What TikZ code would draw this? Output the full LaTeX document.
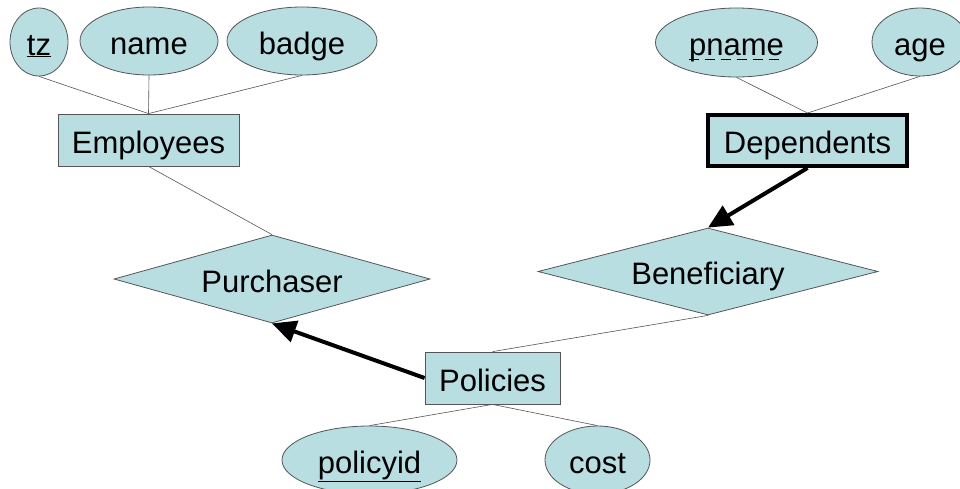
\documentclass[tikz,border=0pt]{standalone}
\usepackage{fontspec}
\setmainfont{Liberation Sans}
\usetikzlibrary{shapes.geometric,arrows.meta}
\definecolor{erfill}{RGB}{184,222,226}
\definecolor{erline}{RGB}{85,85,85}
\begin{document}
\begin{tikzpicture}[x=1pt,y=-1pt,
  every node/.style={font=\fontsize{31}{37}\selectfont, text height=31pt, text depth=5pt},
  attr/.style={ellipse, draw=erline, fill=erfill, inner sep=0pt, line width=0.8pt},
  ent/.style={rectangle, draw=erline, fill=erfill, inner sep=0pt, line width=0.8pt},
  weakent/.style={rectangle, draw=black, fill=erfill, inner sep=0pt, line width=4pt},
  rel/.style={diamond, aspect=3.6, draw=erline, fill=erfill, inner sep=0pt, line width=0.8pt},
  conn/.style={draw=erline, line width=0.6pt},
  heavy/.style={draw=black, line width=4pt, -{Triangle[length=24pt,width=22pt]}}]
\path[use as bounding box] (0,0) rectangle (960,488);
\clip (0,0) rectangle (960,488);
\fill[white] (0,0) rectangle (960,488);

% entities
\node[ent, minimum width=181pt, minimum height=52pt] (emp) at (148.5,140) {Employees};
\node[weakent, minimum width=199pt, minimum height=51pt] (dep) at (807.5,140.5) {Dependents};
\node[ent, minimum width=135pt, minimum height=52pt] (pol) at (492.5,378) {Policies};

% relationships
\node[rel, minimum width=316pt, minimum height=88pt] (purch) at (272,279) {Purchaser};
\node[rel, minimum width=340pt, minimum height=87pt] (benef) at (708,271.5) {Beneficiary};

% attributes
\node[attr, minimum width=58pt, minimum height=68pt] (tz) at (39,42) {\underline{tz}};
\node[attr, minimum width=138pt, minimum height=68pt] (name) at (149,41) {name};
\node[attr, minimum width=150pt, minimum height=68pt] (badge) at (302,41) {badge};
\node[attr, minimum width=162pt, minimum height=69pt] (pname) at (736.5,42.5) {};
\node[inner sep=0pt] (pnametxt) at (pname) {pname};
\node[attr, minimum width=96pt, minimum height=68pt] (age) at (920,42) {age};
\node[attr, minimum width=175pt, minimum height=68pt] (policyid) at (369.5,460) {\underline{policyid}};
\node[attr, minimum width=105pt, minimum height=68pt] (cost) at (597.5,460) {cost};

% dashed underline of the partial key
\draw[black, line width=1.3pt, dash pattern=on 10pt off 6pt]
  ([yshift=-4pt]pnametxt.base west) -- ([yshift=-4pt]pnametxt.base east);

% attribute links
\draw[conn] (tz.south) -- (emp.north);
\draw[conn] (name.south) -- (emp.north);
\draw[conn] (badge.south) -- (emp.north);
\draw[conn] (pname.south) -- (dep.north);
\draw[conn] (age.south) -- (dep.north);
\draw[conn] (pol.south) -- (policyid.north);
\draw[conn] (pol.south) -- (cost.north);

% relationship links
\draw[conn] (emp.south) -- (purch.north);
\draw[conn] (benef.south) -- (pol.north);
\draw[heavy] (pol.west) -- (purch.south);
\draw[heavy] (dep.south) -- (benef.north);
\end{tikzpicture}
\end{document}
